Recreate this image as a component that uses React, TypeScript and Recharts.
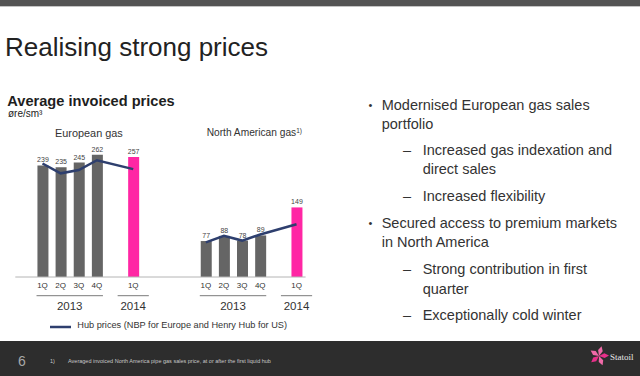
import { Bar, Cell, ComposedChart, LabelList, Line, XAxis, YAxis } from 'recharts'

// Quarterly invoiced gas prices vs hub prices, øre/sm³
const quarters = ['1Q', '2Q', '3Q', '4Q', '1Q']
const years = ['2013', '2013', '2013', '2013', '2014']
const europeInvoiced = [239, 235, 245, 262, 257]
const europeHub = [243, 222, 229, 250, 231]
const naInvoiced = [77, 88, 78, 89, 149]
const naHub = [74, 88, 78, 91, 113]

// slot plan along the shared category axis: blank slots space the two groups
const slotPlan = ['pad', 'e0', 'e1', 'e2', 'e3', 'gap', 'e4', 'pad', 'pad', 'pad', 'n0', 'n1', 'n2', 'n3', 'gap', 'n4']

const GREY = '#656565'
const PINK = '#ff26a4'
const NAVY = '#2e3f6e'
const FONT = '"Liberation Sans", Arial, sans-serif'

const CHART_W = 320
const CHART_H = 200
const MARGIN = { top: 16.9, right: 14.4, left: 15.3, bottom: 3 }
const SLOT = (CHART_W - MARGIN.left - MARGIN.right) / slotPlan.length

type Row = {
  key: string
  q: string
  yr: string
  invoiced: number | null
  hubEU: number | null
  hubNA: number | null
  year?: string
  span?: number
}

const rows: Row[] = slotPlan.map((s, i) => {
  const row: Row = { key: `s${i}`, q: '', yr: '', invoiced: null, hubEU: null, hubNA: null }
  if (s === 'pad' || s === 'gap') return row
  const eu = s[0] === 'e'
  const j = Number(s.slice(1))
  row.q = quarters[j]
  row.yr = years[j]
  row.invoiced = eu ? europeInvoiced[j] : naInvoiced[j]
  if (eu) row.hubEU = europeHub[j]
  else row.hubNA = naHub[j]
  if (j === 0 || years[j] !== years[j - 1]) {
    row.year = years[j]
    row.span = years.filter((y) => y === years[j]).length
  }
  return row
})

function QuarterTick(props: any) {
  const { x, y, payload } = props
  const row = rows[payload.index]
  if (!row || !row.q) return <g />
  let yearMark = null
  if (row.year) {
    const x1 = row.span === 1 ? x - 15.6 : x - 6
    const x2 = row.span === 1 ? x + 15.6 : x + (row.span! - 1) * SLOT + 6
    yearMark = (
      <g>
        <line x1={x1} x2={x2} y1={y + 18.7} y2={y + 18.7} stroke="#7a7a7a" strokeWidth={1} />
        <text x={(x1 + x2) / 2} y={y + 28.7} textAnchor="middle" dominantBaseline="central" fontSize={11.5} fill="#333">
          {row.year}
        </text>
      </g>
    )
  }
  return (
    <g>
      <text x={x} y={y + 8.7} textAnchor="middle" dominantBaseline="central" fontSize={8} fill="#333">
        {row.q}
      </text>
      {yearMark}
    </g>
  )
}

function T({ x, cy, size, children, style }: any) {
  return (
    <div
      style={{
        position: 'absolute',
        left: x,
        top: cy - size * 0.6,
        fontSize: size,
        lineHeight: `${size * 1.2}px`,
        whiteSpace: 'nowrap',
        color: '#333',
        ...style,
      }}
    >
      {children}
    </div>
  )
}

const bulletLines: [number, number, string, string][] = [
  [381.7, 106, '•', 'Modernised European gas sales'],
  [381.7, 124.7, '', 'portfolio'],
  [422.7, 151, '–', 'Increased gas indexation and'],
  [422.7, 170, '', 'direct sales'],
  [422.7, 196.7, '–', 'Increased flexibility'],
  [381.7, 223.3, '•', 'Secured access to premium markets'],
  [381.7, 242.7, '', 'in North America'],
  [422.7, 270, '–', 'Strong contribution in first'],
  [422.7, 289.3, '', 'quarter'],
  [422.7, 316, '–', 'Exceptionally cold winter'],
]

function StatoilStar() {
  const petals = [0, 72, 144, 216, 288]
  return (
    <svg width={20} height={20} style={{ position: 'absolute', left: 589, top: 346 }}>
      {petals.map((a, i) => (
        <polygon
          key={i}
          points="10,10 7.6,4.5 10,0 12.4,4.5"
          fill={i % 2 ? '#e8308a' : '#f06aa8'}
          transform={`rotate(${a + 15} 10 10)`}
        />
      ))}
    </svg>
  )
}

export default function App() {
  return (
    <div
      style={{
        position: 'absolute',
        left: 0,
        top: 0,
        width: 640,
        height: 376,
        overflow: 'hidden',
        background: '#fff',
        fontFamily: FONT,
      }}
    >
      <div style={{ position: 'absolute', left: 0, top: 0, width: 640, height: 6, background: '#545454' }} />
      <div style={{ position: 'absolute', left: 0, top: 6, width: 640, height: 1, background: '#c4c4c4' }} />

      <T x={5} cy={48} size={26} style={{ color: '#222' }}>
        Realising strong prices
      </T>
      <T x={7.3} cy={101.3} size={14.6} style={{ color: '#1e1e1e', fontWeight: 'bold' }}>
        Average invoiced prices
      </T>
      <T x={8} cy={114.2} size={10} style={{ color: '#222' }}>
        øre/sm³
      </T>
      <T x={55} cy={133.3} size={10.9}>
        European gas
      </T>
      <T x={206.7} cy={133.3} size={10.2}>
        North American gas<sup style={{ fontSize: 6.5, verticalAlign: 'top', position: 'relative', top: -2 }}>1)</sup>
      </T>

      <div style={{ position: 'absolute', left: 0, top: 120, width: CHART_W, height: CHART_H }}>
        <ComposedChart width={CHART_W} height={CHART_H} data={rows} margin={MARGIN}>
          <XAxis
            dataKey="key"
            interval={0}
            height={40}
            tickLine={false}
            tickSize={0}
            tickMargin={0}
            axisLine={{ stroke: '#b4b4b4' }}
            tick={(p: any) => <QuarterTick {...p} />}
          />
          <YAxis hide domain={[0, 300]} />
          <Bar dataKey="invoiced" barSize={11} isAnimationActive={false}>
            {rows.map((r) => (
              <Cell key={r.key} fill={r.yr === '2014' ? PINK : GREY} />
            ))}
            <LabelList dataKey="invoiced" position="top" offset={3} fontSize={7} fill="#444" />
          </Bar>
          <Line
            dataKey="hubEU"
            stroke={NAVY}
            strokeWidth={2.5}
            dot={false}
            connectNulls
            isAnimationActive={false}
          />
          <Line
            dataKey="hubNA"
            stroke={NAVY}
            strokeWidth={2.5}
            dot={false}
            connectNulls
            isAnimationActive={false}
          />
        </ComposedChart>
      </div>

      <svg width={24} height={6} style={{ position: 'absolute', left: 49, top: 324 }}>
        <line x1={1} x2={22} y1={3} y2={3} stroke={NAVY} strokeWidth={2.5} />
      </svg>
      <T x={77.3} cy={326} size={9.2}>
        Hub prices (NBP for Europe and Henry Hub for US)
      </T>

      {bulletLines.map(([x, cy, mark, text], i) => (
        <div key={i}>
          {mark && (
            <T x={mark === '•' ? 368.5 : 403} cy={cy} size={mark === '•' ? 11 : 14.5}>
              {mark}
            </T>
          )}
          <T x={x} cy={cy} size={14.5}>
            {text}
          </T>
        </div>
      ))}

      <div style={{ position: 'absolute', left: 0, top: 341, width: 640, height: 35, background: '#2d2d2d' }} />
      <T x={18} cy={361.5} size={14} style={{ color: '#a8a8a8' }}>
        6
      </T>
      <T x={50} cy={361} size={5.5} style={{ color: '#c8c8c8' }}>
        1)
      </T>
      <T x={68} cy={361} size={5.5} style={{ color: '#c8c8c8' }}>
        Averaged invoiced North America pipe gas sales price, at or after the first liquid hub
      </T>
      <StatoilStar />
      <T x={610} cy={357} size={9} style={{ color: '#e8e8e8', fontFamily: '"Liberation Serif", serif' }}>
        Statoil
      </T>
    </div>
  )
}
